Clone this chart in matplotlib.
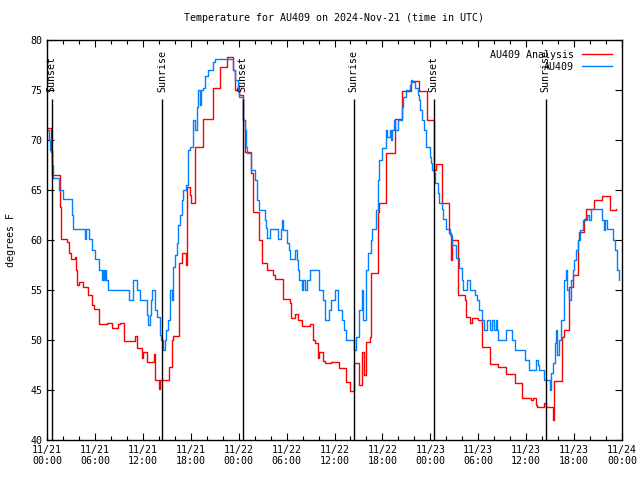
import datetime
import matplotlib
matplotlib.use("Agg")
import matplotlib.pyplot as plt
from matplotlib.ticker import MultipleLocator

# hours since 2024-11-21 00:00 UTC, value holds until the next time
analysis_hours = [0, 0.5, 0.6, 1.6, 1.75, 2.5, 2.75, 3.0, 3.5, 3.6, 3.75, 4.0, 4.5, 5.1, 5.6, 5.9,
                  6.5, 7.5, 8.1, 8.9, 9.1, 9.6, 11.0, 11.25, 11.9, 12.0, 12.5, 13.4, 13.5, 14.0,
                  14.1, 15.25, 15.6, 15.75, 16.5, 16.9, 17.4, 17.5, 17.9, 18.0, 18.5, 19.5, 20.75,
                  21.6, 22.5, 23.25, 23.5, 23.9, 24.1, 24.6, 24.75, 25.6, 25.75, 26.6, 26.9, 27.5,
                  28.25, 28.5, 29.5, 30.4, 30.6, 31.0, 31.4, 31.9, 32.9, 33.25, 33.5, 33.9, 34.1,
                  34.5, 34.75, 35.5, 36.6, 37.5, 37.9, 38.4, 39.1, 39.5, 39.75, 39.9, 40.0, 40.4,
                  40.6, 41.4, 41.6, 42.5, 43.6, 44.5, 45.6, 46.6, 47.6, 48.4, 48.75, 49.5, 50.4,
                  50.6, 50.75, 51.5, 52.4, 52.5, 53.0, 53.25, 54.0, 54.5, 55.5, 56.5, 57.5, 58.6,
                  59.5, 60.6, 60.9, 61.25, 61.4, 62.25, 62.5, 63.4, 63.5, 64.5, 64.75, 65.4, 65.9,
                  66.5, 66.6, 67.25, 67.5, 68.5, 69.5, 70.5, 71.25]
analysis_temp = [71.2, 68.8, 66.5, 63.3, 60.1, 59.8, 58.7, 58.1, 58.3, 57.0, 55.5, 55.8, 55.3, 54.5,
                 53.5, 53.1, 51.6, 51.7, 51.2, 51.6, 51.7, 49.9, 50.4, 49.2, 48.2, 48.8, 47.8, 48.6,
                 46.0, 45.1, 46.0, 47.3, 50.0, 50.4, 57.7, 58.7, 57.5, 65.3, 64.5, 63.7, 69.3, 72.1,
                 75.2, 77.3, 78.3, 77.0, 75.0, 75.5, 74.5, 72.0, 68.8, 66.7, 62.8, 60.0, 57.7, 57.0,
                 56.5, 56.1, 54.1, 53.7, 52.2, 52.6, 52.0, 51.4, 51.6, 50.0, 49.7, 48.2, 48.8, 47.9,
                 47.7, 47.8, 47.2, 45.8, 44.9, 47.7, 45.5, 48.8, 46.5, 48.8, 49.8, 50.3, 56.7, 62.8,
                 63.7, 68.7, 72.1, 74.9, 75.9, 74.9, 72.0, 67.0, 67.6, 63.7, 60.7, 58.0, 60.0, 54.5,
                 54.0, 52.3, 51.7, 52.2, 52.0, 49.3, 47.6, 47.3, 46.6, 45.7, 44.2, 44.0, 44.2, 43.5,
                 43.3, 43.7, 43.3, 42.0, 45.9, 50.3, 51.0, 55.3, 56.5, 60.0, 60.8, 62.1, 63.1, 64.0,
                 64.4, 63.0, 63.1]

obs_hours = [0, 0.25, 0.4, 0.6, 0.75, 1.5, 2.0, 3.1, 3.25, 4.75, 4.9, 5.25, 5.6, 6.0, 6.5, 6.9, 7.0,
             7.1, 7.25, 7.4, 7.6, 10.25, 10.75, 11.25, 11.6, 12.5, 12.6, 12.9, 13.0, 13.1, 13.5,
             13.75, 14.1, 14.25, 14.5, 14.75, 14.9, 15.1, 15.4, 15.6, 15.75, 16.0, 16.25, 16.4,
             16.6, 16.9, 17.0, 17.4, 17.6, 17.9, 18.25, 18.5, 18.75, 18.9, 19.1, 19.25, 19.5,
             19.75, 20.1, 20.75, 21.0, 23.25, 23.5, 23.9, 24.1, 24.5, 24.75, 24.9, 25.1, 25.5,
             26.0, 26.25, 26.5, 27.25, 27.4, 27.6, 27.9, 28.9, 29.25, 29.4, 29.6, 30.0, 30.25,
             30.4, 31.0, 31.25, 31.4, 31.6, 31.9, 32.0, 32.25, 32.6, 32.9, 34.1, 34.5, 34.75,
             35.25, 35.6, 36.0, 36.5, 37.0, 37.25, 37.4, 38.4, 38.75, 39.1, 39.4, 39.5, 39.6,
             39.9, 40.25, 40.6, 40.75, 41.25, 41.4, 41.6, 42.0, 42.5, 42.6, 42.9, 43.1, 43.25,
             43.5, 43.6, 43.9, 44.4, 44.6, 44.9, 45.4, 45.6, 45.75, 46.1, 46.4, 46.6, 46.75,
             47.0, 47.25, 47.5, 47.9, 48.1, 48.25, 48.4, 48.6, 48.9, 49.1, 49.4, 49.6, 49.9,
             50.5, 50.75, 51.25, 51.6, 52.0, 52.1, 52.6, 53.0, 53.6, 53.9, 54.1, 54.5, 54.75,
             55.1, 55.5, 55.75, 56.0, 56.25, 56.4, 56.5, 57.5, 58.25, 58.6, 59.9, 60.4, 61.25,
             61.5, 61.6, 62.25, 63.0, 63.1, 63.4, 63.6, 63.75, 63.9, 64.1, 64.4, 64.75, 65.0,
             65.1, 65.4, 65.6, 65.9, 66.0, 66.25, 66.5, 66.75, 67.1, 67.6, 67.9, 68.1, 69.5,
             69.75, 69.9, 70.1, 70.9, 71.1, 71.4, 71.6]
obs_temp = [71, 70, 69, 67.5, 66.2, 65, 64.1, 62.5, 61.1, 60.1, 61.1, 60.1, 59, 58.1, 57, 56, 57,
            56, 57, 56, 55, 54, 56, 55, 54, 52.5, 51.5, 52.5, 54, 55, 53, 52.3, 50.5, 50, 49, 50,
            51, 52, 55, 54, 57.3, 58.5, 59.7, 61.5, 62.5, 64, 65, 65.5, 69, 69.3, 72, 71, 73.3,
            75, 73.5, 75, 75.2, 76.4, 77, 77.8, 78.1, 77, 76, 75, 74.3, 72, 71, 69.3, 68.7, 67,
            66, 64, 63, 62, 61.2, 60.2, 61.1, 60.1, 61.1, 62, 61, 59.7, 59, 58.1, 59, 58, 57, 56,
            55, 56, 55, 56, 57, 55, 54, 52, 53, 54, 55, 53, 52, 51, 50, 49, 50.3, 53, 54, 55, 52,
            57, 58.7, 60, 61.1, 63, 66, 68, 69.2, 71, 70.3, 71, 70, 71, 72, 71, 72, 73.3, 74.3, 75,
            75.5, 76, 75.8, 75.2, 74.5, 74, 73, 72, 71, 69.3, 68.3, 67.7, 67, 66.7, 65.7, 64.7,
            63.7, 63.1, 62.1, 61.1, 60.5, 59.5, 58.2, 57.2, 56, 55, 56, 55, 54.5, 54, 53, 52, 51,
            52, 51, 52, 51, 52, 51, 50, 51, 50, 49, 48, 47, 48, 47.5, 47, 46, 45, 46.7, 47.7, 49.7,
            51, 48.5, 50, 52, 56, 57, 55, 54, 56, 57, 58, 59, 60, 61, 62, 62.5, 62, 63.1, 62, 61,
            62, 61.1, 60, 59, 57, 56]

sun_hours = [0.58, 14.4, 24.5, 38.4, 48.4, 62.45]
sun_labels = ["Sunset", "Sunrise", "Sunset", "Sunrise", "Sunset", "Sunrise"]

start = datetime.datetime(2024, 11, 21, 0, 0)
tick_hours = list(range(0, 73, 6))
tick_labels = [(start + datetime.timedelta(hours=h)).strftime("%m/%d\n%H:%M") for h in tick_hours]

plt.rcParams['font.family'] = ['DejaVu Sans Mono']
fs = 7.2

fig = plt.figure(figsize=(6.4, 4.8), dpi=100)
ax = fig.add_axes([47 / 640, 1 - 440 / 480, 575 / 640, 400 / 480])

ax.step(analysis_hours, analysis_temp, where="post", color="#ff0000", lw=1.0, label="AU409 Analysis")
ax.step(obs_hours, obs_temp, where="post", color="#0080ff", lw=1.0, label="AU409")

for h, lab in zip(sun_hours, sun_labels):
    ax.vlines(h, 40, 74.1, color="black", lw=1.0)
    ax.text(h, 74.8, lab, rotation=90, ha="center", va="bottom", fontsize=fs)

ax.set_xlim(0, 72)
ax.set_ylim(40, 80)
ax.set_xticks(tick_hours)
ax.set_xticklabels(tick_labels, fontsize=fs)
ax.xaxis.set_minor_locator(MultipleLocator(2))
ax.yaxis.set_major_locator(MultipleLocator(5))
ax.tick_params(axis="y", labelsize=fs)
ax.tick_params(which="both", direction="in", top=True, right=True, width=0.8)
ax.tick_params(which="major", length=5)
ax.tick_params(which="minor", length=3)
for s in ax.spines.values():
    s.set_linewidth(1.0)

ax.set_ylabel("degrees F", fontsize=fs, labelpad=10)
ax.set_title("Temperature for AU409 on 2024-Nov-21 (time in UTC)", fontsize=fs, pad=14)
ax.legend(loc="upper right", frameon=False, fontsize=fs, markerfirst=False,
          handlelength=3.0, borderaxespad=0.6, labelspacing=0.2)

fig.savefig("out.png", dpi=100)
